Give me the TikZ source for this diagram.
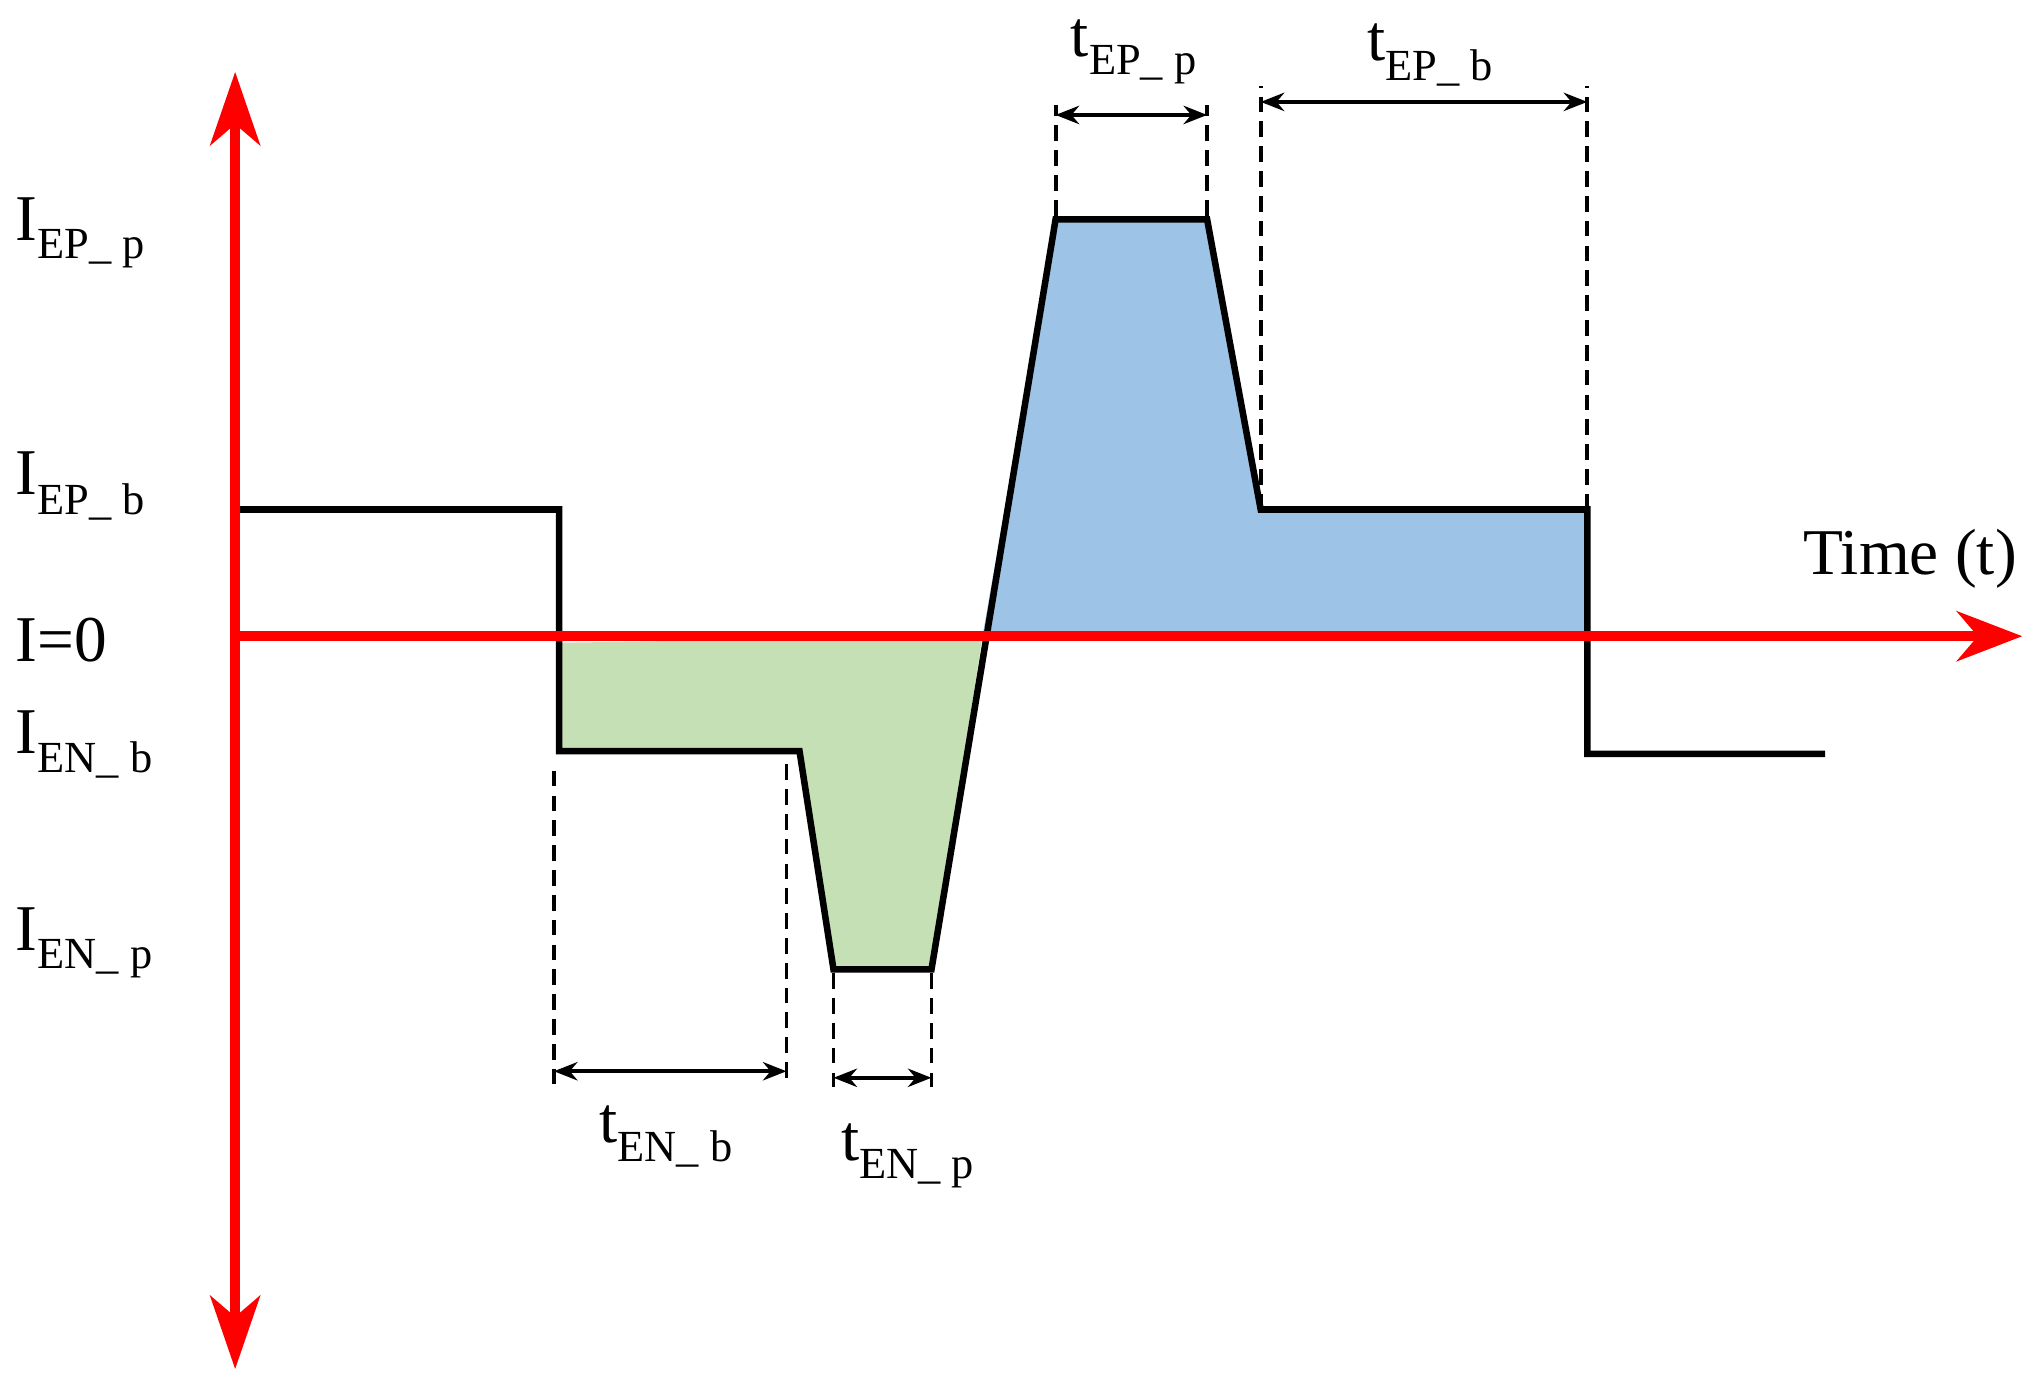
\documentclass[tikz,border=0pt]{standalone}
\usepackage{fontspec}
\setmainfont{Liberation Serif}
\usetikzlibrary{arrows.meta}
\newcommand{\mysub}[1]{\textsubscript{\fontsize{34}{40}\selectfont #1}}
\begin{document}
\begin{tikzpicture}[x=1pt,y=-1pt,
  sig/.style={line width=5pt,line join=miter},
  ax/.style={red,line width=8pt},
  dim/.style={line width=3pt,{Stealth[length=18pt,width=14pt]}-{Stealth[length=18pt,width=14pt]}},
  dsh/.style={line width=3pt,dash pattern=on 12pt off 7pt},
  lab/.style={font=\fontsize{50}{58}\selectfont,inner sep=0pt}]
\useasboundingbox (0,0) rectangle (1560,1064);
\fill[fill={rgb,255:red,157;green,195;blue,230}] (752,487) -- (808,168) -- (924,168) -- (965,390) -- (1215,390) -- (1215,487) -- cycle;
\fill[fill={rgb,255:red,197;green,224;blue,180}] (428,492) -- (428,575) -- (612,575) -- (638,742) -- (713,742) -- (752,487) -- cycle;
\coordinate (s0) at (180,390);
\coordinate (s1) at (1397,577);
\draw[sig] (s0) -- (428,390) -- (428,575) -- (612,575) -- (638,742) -- (713,742) -- (808,168) -- (924,168) -- (965,390) -- (1215,390) -- (1215,577) -- (s1);
\coordinate (ytop) at (180,55); \coordinate (ybot) at (180,1048);
\coordinate (x0) at (180,487); \coordinate (xend) at (1548,487);
\draw[ax,{Stealth[length=56pt,width=38pt,inset=16pt]}-{Stealth[length=56pt,width=38pt,inset=16pt]}] (ytop) -- (ybot);
\draw[ax,-{Stealth[length=50pt,width=38pt,inset=16pt]}] (x0) -- (xend);
\draw[dsh] (424,590) -- (424,830); \draw[dsh] (602,585) -- (602,830);
\draw[dsh] (638,745) -- (638,832); \draw[dsh] (713,745) -- (713,832);
\draw[dsh] (808,165) -- (808,80); \draw[dsh] (924,165) -- (924,80);
\draw[dsh] (965,390) -- (965,66); \draw[dsh] (1215,390) -- (1215,66);
\coordinate (a1) at (424,820); \coordinate (a2) at (602,820);
\coordinate (b1) at (638,825); \coordinate (b2) at (713,825);
\coordinate (c1) at (808,88); \coordinate (c2) at (924,88);
\coordinate (d1) at (965,78); \coordinate (d2) at (1215,78);
\draw[dim] (a1) -- (a2); \draw[dim] (b1) -- (b2);
\draw[dim] (c1) -- (c2); \draw[dim] (d1) -- (d2);
\node[lab] (l1) at (868,40) {t\mysub{EP\_ p}};
\node[lab] (l2) at (1095,42) {t\mysub{EP\_ b}};
\node[lab] (l3) at (510,870) {t\mysub{EN\_ b}};
\node[lab] (l4) at (695,885) {t\mysub{EN\_ p}};
\node[lab,anchor=west] (l5) at (12,178) {I\mysub{EP\_ p}};
\node[lab,anchor=west] (l6) at (12,372) {I\mysub{EP\_ b}};
\node[lab,anchor=west] (l7) at (12,490) {I=0};
\node[lab,anchor=west] (l8) at (12,570) {I\mysub{EN\_ b}};
\node[lab,anchor=west] (l9) at (12,722) {I\mysub{EN\_ p}};
\node[lab] (l10) at (1462,428) {Time (t)};
\end{tikzpicture}
\end{document}
